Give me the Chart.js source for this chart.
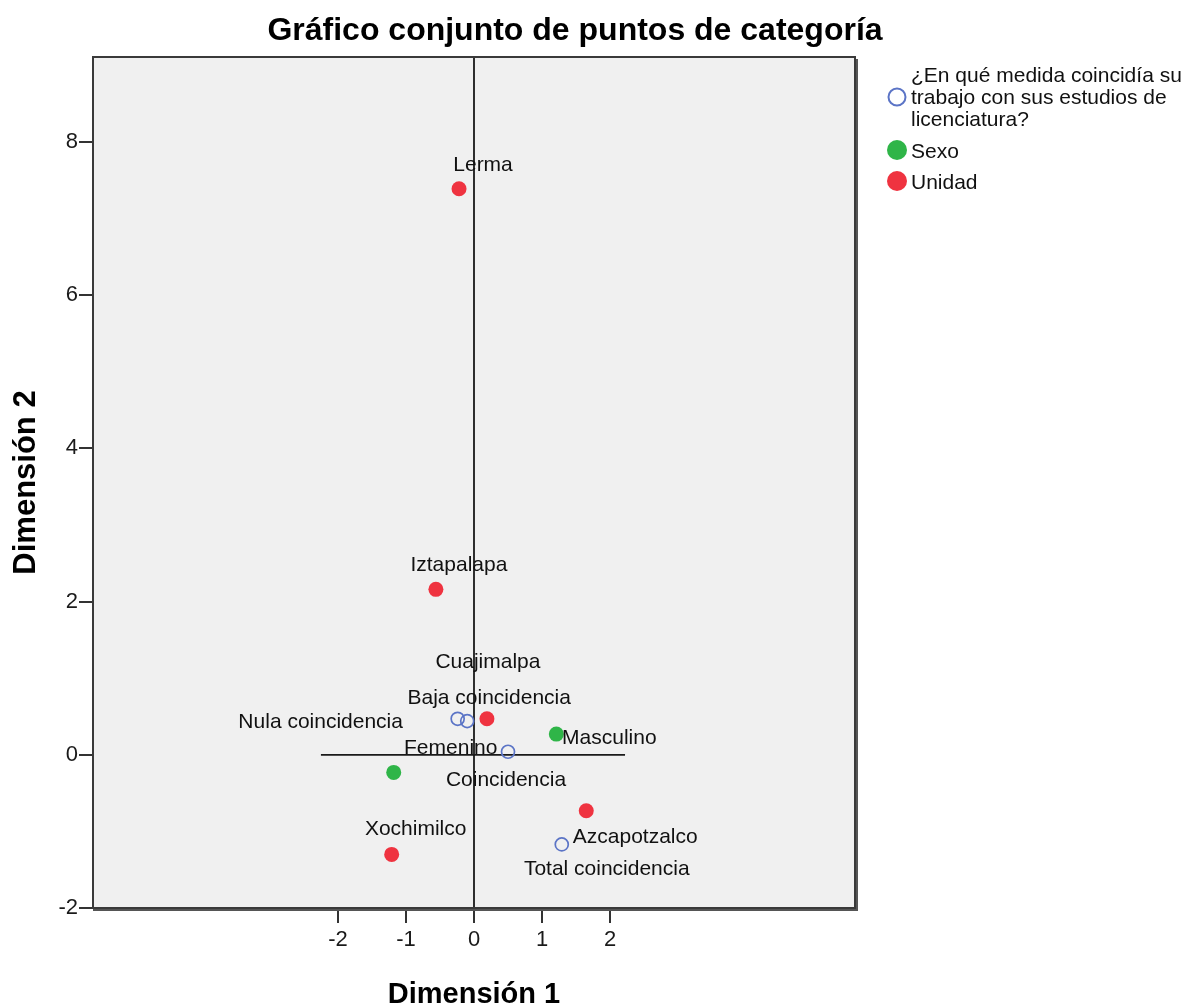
<!DOCTYPE html>
<html>
<head>
<meta charset="utf-8">
<title>Gráfico conjunto de puntos de categoría</title>
<script src="https://cdn.jsdelivr.net/npm/chart.js@4.4.1/dist/chart.umd.min.js"></script>
<style>
  html, body { margin: 0; padding: 0; background: #ffffff; }
  #wrap { width: 1196px; height: 1008px; }
</style>
</head>
<body>
<div id="wrap"><canvas id="plot" width="1196" height="1008"></canvas></div>
<script>
// category coordinates (dimension 1, dimension 2)
const coincNames = ["Nula coincidencia", "Baja coincidencia", "Coincidencia", "Total coincidencia"];
const coincX = [-0.24, -0.10, 0.50, 1.29];
const coincY = [0.47, 0.44, 0.04, -1.17];

const sexoNames = ["Masculino", "Femenino"];
const sexoX = [1.21, -1.18];
const sexoY = [0.27, -0.23];

const unidadNames = ["Lerma", "Iztapalapa", "Cuajimalpa", "Azcapotzalco", "Xochimilco"];
const unidadX = [-0.22, -0.56, 0.19, 1.65, -1.21];
const unidadY = [7.39, 2.16, 0.47, -0.73, -1.30];

const seriesLabels = [
  ["¿En qué medida coincidía su", "trabajo con sus estudios de", "licenciatura?"],
  ["Sexo"],
  ["Unidad"]
];

const xTicks = [-2, -1, 0, 1, 2];
const yTicks = [-2, 0, 2, 4, 6, 8];
const xRange = [-5.6, 5.6];
const yRange = [-2, 9.11];
// origin cross: horizontal segment extent on dimension 1
const originSpanX = [-2.25, 2.22];

// label placement in px (text centre relative to point)
const coincOffsets = [[-137, 3], [22, -23], [-2, 28], [45, 25]];
const sexoOffsets = [[53, 4], [57, -24]];
const unidadOffsets = [[24, -24], [23, -24], [1, -57], [49, 26], [24, -25]];

const BLUE = "#5b74c6";
const GREEN = "#2fb548";
const RED = "#ef3340";
const FONT = "'Liberation Sans', Arial, sans-serif";
const NARROW = "'Liberation Sans Narrow', 'Liberation Sans', Arial, sans-serif";

function toPoints(xs, ys) {
  return xs.map((x, i) => ({ x, y: ys[i] }));
}

const datasets = [
  { label: seriesLabels[0].join(" "), names: coincNames, offsets: coincOffsets,
    data: toPoints(coincX, coincY), pointRadius: 6.5, pointBorderWidth: 1.7,
    pointBackgroundColor: "rgba(0,0,0,0)", pointBorderColor: BLUE, fill: BLUE, open: true },
  { label: "Sexo", names: sexoNames, offsets: sexoOffsets,
    data: toPoints(sexoX, sexoY), pointRadius: 7.5, pointBorderWidth: 0,
    pointBackgroundColor: GREEN, pointBorderColor: GREEN, fill: GREEN },
  { label: "Unidad", names: unidadNames, offsets: unidadOffsets,
    data: toPoints(unidadX, unidadY), pointRadius: 7.5, pointBorderWidth: 0,
    pointBackgroundColor: RED, pointBorderColor: RED, fill: RED }
];

// grey plot box plus the origin cross
const backdrop = {
  id: "backdrop",
  beforeDatasetsDraw(chart) {
    const { ctx, chartArea: a, scales } = chart;
    ctx.save();
    ctx.fillStyle = "#f0f0f0";
    ctx.fillRect(a.left, a.top, a.right - a.left, a.bottom - a.top);

    ctx.strokeStyle = "#1a1a1a";
    ctx.lineWidth = 1.8;
    const x0 = scales.x.getPixelForValue(0);
    const y0 = scales.y.getPixelForValue(0);
    ctx.beginPath();
    ctx.moveTo(x0, a.top);
    ctx.lineTo(x0, a.bottom);
    ctx.moveTo(scales.x.getPixelForValue(originSpanX[0]), y0);
    ctx.lineTo(scales.x.getPixelForValue(originSpanX[1]), y0);
    ctx.stroke();
    ctx.restore();
  },
  afterDraw(chart) {
    const { ctx, chartArea: a } = chart;
    ctx.save();
    ctx.strokeStyle = "#3a3a3a";
    ctx.lineWidth = 2;
    ctx.strokeRect(a.left, a.top, a.right - a.left, a.bottom - a.top);
    // slightly heavier bottom and right edges
    ctx.strokeStyle = "#555555";
    ctx.lineWidth = 2;
    ctx.beginPath();
    ctx.moveTo(a.left, a.bottom + 2);
    ctx.lineTo(a.right + 2, a.bottom + 2);
    ctx.lineTo(a.right + 2, a.top + 2);
    ctx.stroke();
    ctx.restore();
  }
};

// category names next to each point
const pointNames = {
  id: "pointNames",
  afterDatasetsDraw(chart) {
    const { ctx } = chart;
    ctx.save();
    ctx.font = "21px " + FONT;
    ctx.fillStyle = "#111111";
    ctx.textAlign = "center";
    ctx.textBaseline = "middle";
    chart.data.datasets.forEach((ds, di) => {
      chart.getDatasetMeta(di).data.forEach((pt, i) => {
        const [dx, dy] = ds.offsets[i];
        ctx.fillText(ds.names[i], pt.x + dx, pt.y + dy);
      });
    });
    ctx.restore();
  }
};

// title and legend on the right
const decorations = {
  id: "decorations",
  afterDraw(chart) {
    const { ctx } = chart;
    ctx.save();
    ctx.fillStyle = "#000000";
    ctx.font = "bold 32px " + FONT;
    ctx.textAlign = "center";
    ctx.textBaseline = "middle";
    ctx.fillText("Gráfico conjunto de puntos de categoría", 575, 31);

    const legendX = 897;
    const rows = [[76, 98, 120], [152], [183]];
    const markerY = [97, 150, 181];
    ctx.font = "21px " + FONT;
    ctx.textAlign = "left";
    chart.data.datasets.forEach((ds, i) => {
      ctx.beginPath();
      if (ds.open) {
        ctx.arc(legendX, markerY[i], 8.5, 0, Math.PI * 2);
        ctx.strokeStyle = ds.fill;
        ctx.lineWidth = 2;
        ctx.stroke();
      } else {
        ctx.arc(legendX, markerY[i], 10, 0, Math.PI * 2);
        ctx.fillStyle = ds.fill;
        ctx.fill();
      }
      ctx.fillStyle = "#111111";
      seriesLabels[i].forEach((line, j) => ctx.fillText(line, 911, rows[i][j]));
    });
    ctx.restore();
  }
};

new Chart(document.getElementById("plot"), {
  type: "scatter",
  data: { datasets },
  options: {
    responsive: false,
    animation: false,
    events: [],
    layout: { padding: { top: 57, right: 341, left: 0, bottom: 0 } },
    plugins: { legend: { display: false }, tooltip: { enabled: false }, title: { display: false } },
    scales: {
      x: {
        type: "linear",
        min: xRange[0],
        max: xRange[1],
        afterBuildTicks(scale) { scale.ticks = xTicks.map(v => ({ value: v })); },
        afterFit(scale) { scale.height = 100; },
        grid: { drawOnChartArea: false, tickLength: 15, color: "#333333", lineWidth: 2 },
        border: { display: false },
        ticks: { color: "#1a1a1a", font: { family: NARROW, size: 22 }, padding: 4 },
        title: { display: true, text: "Dimensión 1", color: "#000000",
                 font: { family: FONT, size: 29, weight: "bold" }, padding: { top: 0, bottom: -4 } }
      },
      y: {
        type: "linear",
        min: yRange[0],
        max: yRange[1],
        afterBuildTicks(scale) { scale.ticks = yTicks.map(v => ({ value: v })); },
        afterFit(scale) { scale.width = 93; },
        grid: { drawOnChartArea: false, tickLength: 14, color: "#333333", lineWidth: 2 },
        border: { display: false },
        ticks: { color: "#1a1a1a", font: { family: NARROW, size: 22 }, padding: 1 },
        title: { display: true, text: "Dimensión 2", color: "#000000",
                 font: { family: FONT, size: 31, weight: "bold" }, padding: { top: 8, bottom: 0 } }
      }
    }
  },
  plugins: [backdrop, pointNames, decorations]
});
</script>
</body>
</html>
